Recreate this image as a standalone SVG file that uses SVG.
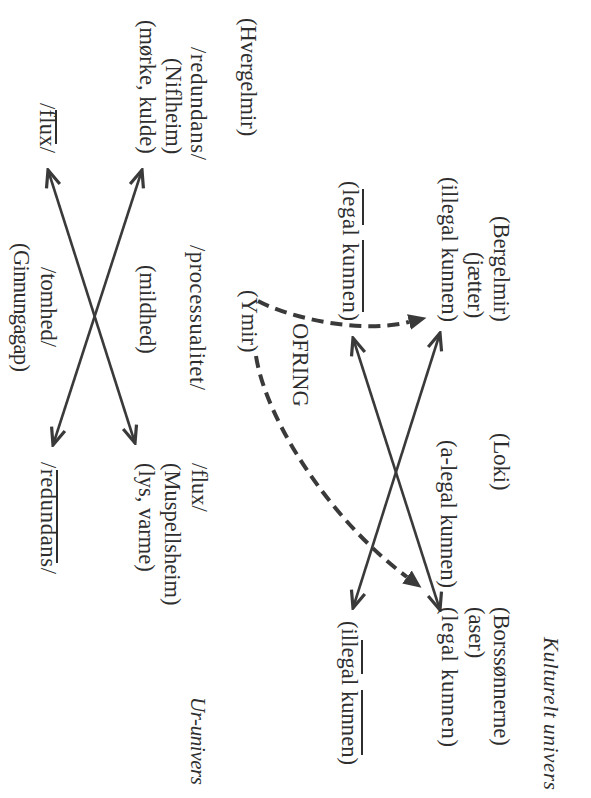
<svg xmlns="http://www.w3.org/2000/svg" width="591" height="798" viewBox="0 0 591 798">
<style>
  .t { font-family: "Liberation Serif", "Times New Roman", serif; font-size: 22.5px; fill: #2e2e2e; }
  .i { font-family: "Liberation Serif", "Times New Roman", serif; font-size: 21px; font-style: italic; fill: #2e2e2e; }
  .ov { stroke: #2e2e2e; stroke-width: 2; fill: none; }
  .solid { stroke: #3a3a3a; stroke-width: 2.6; fill: none; marker-start: url(#open); marker-end: url(#open); }
  .dash { stroke: #3a3a3a; stroke-width: 4; fill: none; stroke-dasharray: 12 7; marker-end: url(#tri); }
</style>
<defs>
  <marker id="open" viewBox="-20 -10 22 20" refX="0" refY="0" markerWidth="22" markerHeight="20" markerUnits="userSpaceOnUse" orient="auto-start-reverse">
    <path d="M-17,-7 L0,0 L-17,7" fill="none" stroke="#3a3a3a" stroke-width="3.2" stroke-linejoin="miter"/>
  </marker>
  <marker id="tri" viewBox="0 -10 20 20" refX="0" refY="0" markerWidth="20" markerHeight="20" markerUnits="userSpaceOnUse" orient="auto">
    <path d="M0,-8 L18,0 L0,8 Z" fill="#3a3a3a"/>
  </marker>
</defs>
<rect width="591" height="798" fill="#ffffff"/>

<g id="connectors">
  <line class="solid" x1="48" y1="170" x2="135" y2="443"/>
  <line class="solid" x1="142" y1="170" x2="53" y2="445"/>
  <line class="solid" x1="353" y1="338" x2="440" y2="610"/>
  <line class="solid" x1="440" y1="333" x2="353" y2="608"/>
  <path class="dash" d="M258,301 C290,318 360,334 409,322"/>
  <path class="dash" d="M256,356 C266,420 330,520 407,577"/>
</g>

<g id="hvergelmir"><text class="t" x="241" y="18" transform="rotate(90 241 18)">(Hvergelmir)</text></g>

<g id="niflheim">
  <text class="t" x="191" y="47" transform="rotate(90 191 47)" textLength="113" lengthAdjust="spacing">/redundans/</text>
  <text class="t" x="166" y="58" transform="rotate(90 166 58)">(Niflheim)</text>
  <text class="t" x="140" y="20" transform="rotate(90 140 20)">(mørke, kulde)</text>
</g>

<g id="flux-neg">
  <text class="t" x="40" y="103" transform="rotate(90 40 103)" textLength="50" lengthAdjust="spacing">/flux/</text>
  <line class="ov" x1="56" y1="110" x2="56" y2="144"/>
</g>

<g id="processualitet"><text class="t" x="190" y="245" transform="rotate(90 190 245)" textLength="145" lengthAdjust="spacing">/processualitet/</text></g>
<g id="mildhed"><text class="t" x="140" y="265" transform="rotate(90 140 265)">(mildhed)</text></g>
<g id="ginnungagap">
  <text class="t" x="41" y="267" transform="rotate(90 41 267)">/tomhed/</text>
  <text class="t" x="14" y="243" transform="rotate(90 14 243)" textLength="129" lengthAdjust="spacing">(Ginnungagap)</text>
</g>

<g id="ymir"><text class="t" x="242" y="290" transform="rotate(90 242 290)">(Ymir)</text></g>
<g id="ofring"><text class="t" x="293" y="323" transform="rotate(90 293 323)">OFRING</text></g>

<g id="bergelmir">
  <text class="t" x="494" y="216" transform="rotate(90 494 216)">(Bergelmir)</text>
  <text class="t" x="468" y="252" transform="rotate(90 468 252)">(jætter)</text>
  <text class="t" x="442" y="177" transform="rotate(90 442 177)" textLength="145" lengthAdjust="spacing">(illegal kunnen)</text>
</g>

<g id="legal-neg-top">
  <text class="t" x="343" y="181" transform="rotate(90 343 181)" textLength="140" lengthAdjust="spacing">(legal kunnen)</text>
  <line class="ov" x1="363" y1="189" x2="363" y2="225"/>
  <line class="ov" x1="363" y1="240" x2="363" y2="312"/>
</g>

<g id="loki">
  <text class="t" x="494" y="433" transform="rotate(90 494 433)">(Loki)</text>
  <text class="t" x="441" y="440" transform="rotate(90 441 440)">(a-legal kunnen)</text>
</g>

<g id="borssonnerne">
  <text class="t" x="494" y="607" transform="rotate(90 494 607)">(Borssønnerne)</text>
  <text class="t" x="469" y="607" transform="rotate(90 469 607)">(aser)</text>
  <text class="t" x="442" y="607" transform="rotate(90 442 607)" textLength="140" lengthAdjust="spacing">(legal kunnen)</text>
</g>

<g id="illegal-neg-bottom">
  <text class="t" x="342" y="621" transform="rotate(90 342 621)" textLength="144" lengthAdjust="spacing">(illegal kunnen)</text>
  <line class="ov" x1="362" y1="640" x2="362" y2="674"/>
  <line class="ov" x1="362" y1="690" x2="362" y2="755"/>
</g>

<g id="kulturelt"><text class="i" x="544" y="637" transform="rotate(90 544 637)" textLength="153" lengthAdjust="spacing">Kulturelt univers</text></g>

<g id="muspellsheim">
  <text class="t" x="192" y="463" transform="rotate(90 192 463)">/flux/</text>
  <text class="t" x="165" y="463" transform="rotate(90 165 463)">(Muspellsheim)</text>
  <text class="t" x="139" y="463" transform="rotate(90 139 463)">(lys, varme)</text>
</g>

<g id="redundans-neg">
  <text class="t" x="41" y="462" transform="rotate(90 41 462)" textLength="112" lengthAdjust="spacing">/redundans/</text>
  <line class="ov" x1="57" y1="470" x2="57" y2="563"/>
</g>

<g id="ur-univers"><text class="i" x="191" y="697" transform="rotate(90 191 697)" textLength="88" lengthAdjust="spacing">Ur-univers</text></g>
</svg>
